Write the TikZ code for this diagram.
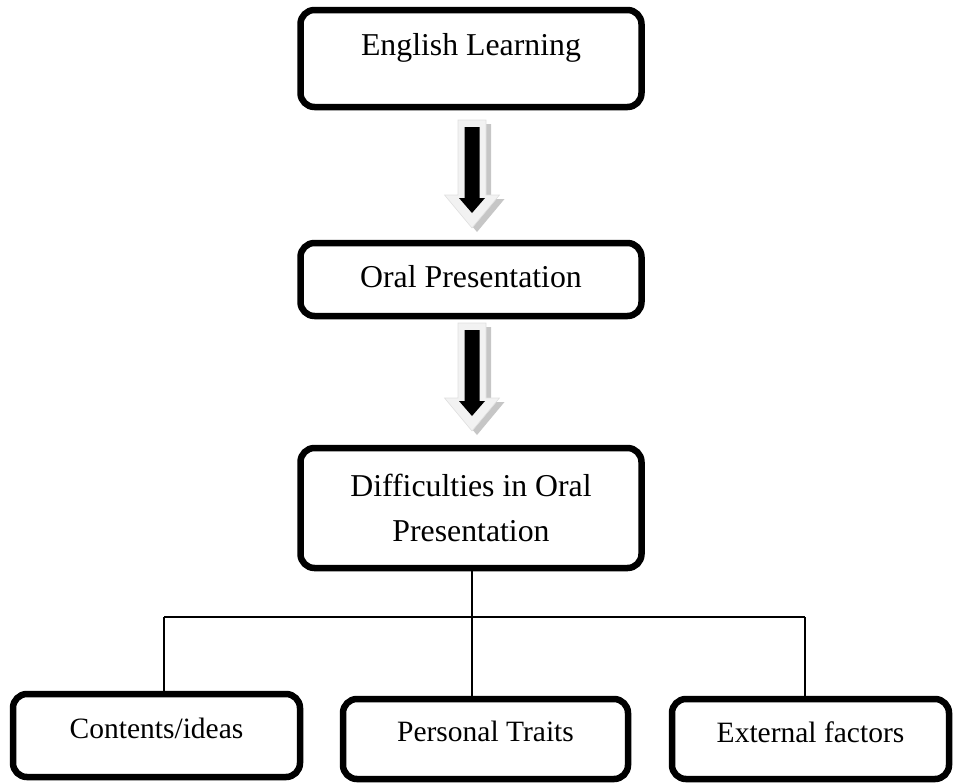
\documentclass[tikz,border=0pt]{standalone}
\usepackage{fontspec}
\setmainfont{Liberation Serif}
\tikzset{
 box/.style={draw, line width=6.5pt, rounded corners=14pt, inner sep=0pt, align=center, anchor=base},
 bigtxt/.style={font=\fontsize{31.8}{45}\selectfont},
 smalltxt/.style={font=\fontsize{29.5}{35}\selectfont},
 conn/.style={line width=1.5pt},
 pics/blockarr/.style={code={
   \fill[gray!45] (-9,4) -- (19,4) -- (19,79) -- (32.5,79) -- (5,112) -- (-22.5,79) -- (-9,79) -- cycle;
   \filldraw[fill=gray!10, draw=gray!25, line width=0.6pt] (-14,0) -- (14,0) -- (14,75) -- (27.5,75) -- (0,108) -- (-27.5,75) -- (-14,75) -- cycle;
   \fill[black] (-7.5,7) -- (7.5,7) -- (7.5,78) -- (13,78) -- (0,93) -- (-13,78) -- (-7.5,78) -- cycle;
 }}
}
\begin{document}
\begin{tikzpicture}[x=1pt,y=-1pt]
\useasboundingbox (0,0) rectangle (953,782);
\node[box, bigtxt, minimum width=341pt, text height=45pt, text depth=52pt] (b1) at (471,55) {English Learning};
\node[box, bigtxt, minimum width=341pt, text height=44pt, text depth=29pt] (b2) at (471,287) {Oral Presentation};
\node[box, bigtxt, minimum width=341pt, minimum height=120pt, anchor=center] (b3) at (471,508) {Difficulties in Oral\\Presentation};
\node[box, smalltxt, minimum width=287pt, text height=44pt, text depth=39pt] (bA) at (156.5,738) {Contents/ideas};
\node[box, smalltxt, minimum width=285pt, text height=42pt, text depth=38pt] (bB) at (485.5,741) {Personal Traits};
\node[box, smalltxt, minimum width=277pt, text height=43pt, text depth=37pt] (bC) at (810.5,742) {External factors};
\pic at (472,120) {blockarr};
\pic at (472,323) {blockarr};
\coordinate (hl) at (164,617);
\coordinate (hr) at (805,617);
\coordinate (jm) at (472,617);
\draw[conn] (jm |- b3.south) -- (jm |- bB.north);
\draw[conn] (hl) -- (hr);
\draw[conn] (hl) -- (hl |- bA.north);
\draw[conn] (hr) -- (hr |- bC.north);
\end{tikzpicture}
\end{document}
